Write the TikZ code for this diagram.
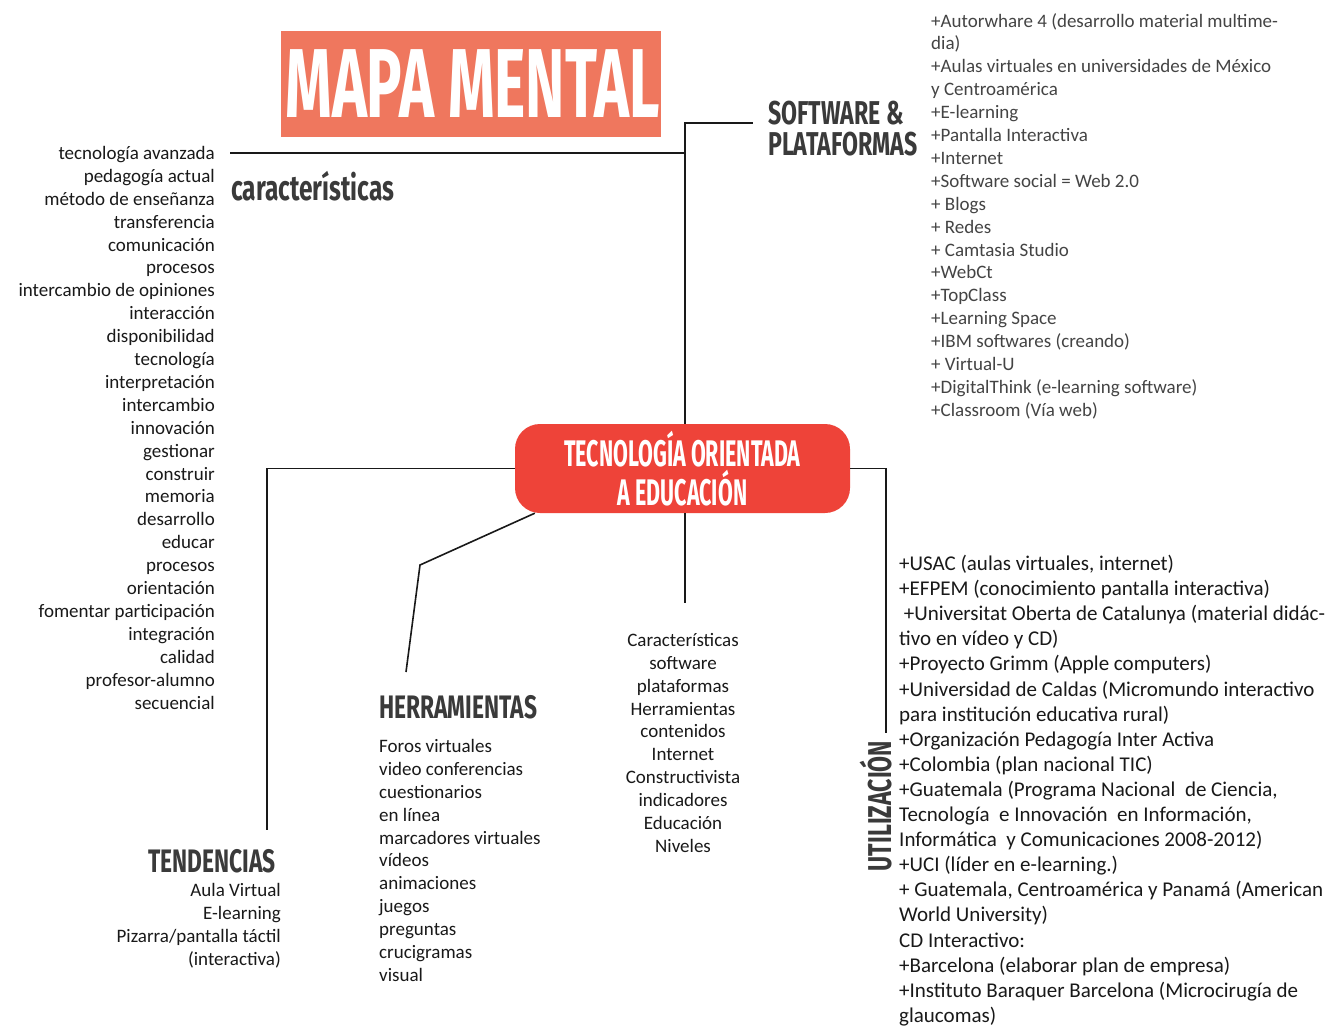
\documentclass[tikz,border=0pt]{standalone}
\usepackage{fontspec}
\setmainfont{Carlito}
\newfontfamily\titlefont[FakeStretch=0.605]{Fira Sans}
\newfontfamily\centerfont[FakeStretch=0.58]{Fira Sans}
\newfontfamily\headfont[FakeStretch=0.70]{Fira Sans}
\definecolor{titleorange}{HTML}{EF775E}
\definecolor{centerred}{HTML}{EE4339}
\definecolor{headgray}{HTML}{3A3A3A}
\definecolor{listgray}{HTML}{444444}
\begin{document}
\begin{tikzpicture}[x=1pt,y=-1pt,
  conn/.style={line width=1.6pt,draw=black!90},
  headtext/.style={text=headgray,inner sep=0pt,font=\headfont\bfseries\fontsize{#1}{#1}\selectfont},
  listtext/.style={inner sep=0pt,text=black!90,font=\fontsize{19}{22.9}\selectfont},
]
\fill[white] (0,0) rectangle (1330,1028);
\useasboundingbox (0,0) rectangle (1330,1028);

% title
\node[fill=titleorange,minimum width=380pt,minimum height=106pt,inner sep=0pt] (title) at (471,84) {};
\node[inner sep=0pt,text=white,font=\titlefont\bfseries\fontsize{98}{98}\selectfont] (titletext) at (472.5,84) {MAPA MENTAL};

% center
\node[fill=centerred,rounded corners=25pt,minimum width=335pt,minimum height=89pt,inner sep=0pt,
      text=white,align=center,font=\centerfont\bfseries\fontsize{37}{39}\selectfont] (center) at (682.5,468.5)
      {TECNOLOGÍA ORIENTADA\\A EDUCACIÓN};

% headings
\node[headtext=33,align=left,anchor=north west] (sw) at (768,101) {SOFTWARE \&\\[-2pt]PLATAFORMAS};
\node[headtext=35,anchor=west] (car) at (231,186) {características};
\node[headtext=32.5,anchor=north west] (her) at (379,695) {HERRAMIENTAS};
\node[headtext=32.5,anchor=north east] (ten) at (276,849) {TENDENCIAS};
\node[headtext=33,rotate=90] (uti) at (876,806) {UTILIZACIÓN};

% lists
\node[listtext,align=right,anchor=north east] (carlist) at (215,146) {tecnología avanzada\\pedagogía actual\\método de enseñanza\\transferencia\\comunicación\\procesos\\intercambio de opiniones\\interacción\\disponibilidad\\tecnología\\interpretación\\intercambio\\innovación\\gestionar\\construir\\memoria\\desarrollo\\educar\\procesos\\orientación\\fomentar participación\\integración\\calidad\\profesor-alumno\\secuencial};

\node[listtext,text=listgray,align=left,anchor=north west] (swlist) at (931,13) {+Autorwhare 4 (desarrollo material multime-\\dia)\\+Aulas virtuales en universidades de México\\y Centroamérica\\+E-learning\\+Pantalla Interactiva\\+Internet\\+Software social = Web 2.0\\+ Blogs\\+ Redes\\+ Camtasia Studio\\+WebCt\\+TopClass\\+Learning Space\\+IBM softwares (creando)\\+ Virtual-U\\+DigitalThink (e-learning software)\\+Classroom (Vía web)};

\node[listtext,align=left,anchor=north west] (herlist) at (379,739) {Foros virtuales\\video conferencias\\cuestionarios\\en línea\\marcadores virtuales\\vídeos\\animaciones\\juegos\\preguntas\\crucigramas\\visual};

\node[listtext,align=right,anchor=north east] (tenlist) at (281,883) {Aula Virtual\\E-learning\\Pizarra/pantalla táctil\\(interactiva)};

\node[listtext,align=center,anchor=north] (midlist) at (683,633) {Características\\software\\plataformas\\Herramientas\\contenidos\\Internet\\Constructivista\\indicadores\\Educación\\Niveles};

\node[listtext,align=left,anchor=north west,font=\fontsize{21}{25.1}\selectfont] (utilist) at (899,555) {+USAC (aulas virtuales, internet)\\+EFPEM (conocimiento pantalla interactiva)\\\ +Universitat Oberta de Catalunya (material didác-\\tivo en vídeo y CD)\\+Proyecto Grimm (Apple computers)\\+Universidad de Caldas (Micromundo interactivo\\para institución educativa rural)\\+Organización Pedagogía Inter Activa\\+Colombia (plan nacional TIC)\\+Guatemala (Programa Nacional\ \ de Ciencia,\\Tecnología\ \ e Innovación\ \ en Información,\\Informática\ \ y Comunicaciones 2008-2012)\\+UCI (líder en e-learning.)\\+ Guatemala, Centroamérica y Panamá (American\\World University)\\CD Interactivo:\\+Barcelona (elaborar plan de empresa)\\+Instituto Baraquer Barcelona (Microcirugía de\\glaucomas)};

% connector end points
\coordinate (swend) at (753,123);
\coordinate (carjoin) at (685,153);
\coordinate (carend) at (230,153);
\coordinate (tenend) at (267,830);
\coordinate (utiend) at (886,733);
\coordinate (midend) at (685,603);
\coordinate (herbend) at (420,565);
\coordinate (herend) at (406,672);

\draw[conn] ([xshift=2.5pt]center.north) |- (swend);
\draw[conn] (carjoin) -- (carend);
\draw[conn] (center.west) -| (tenend);
\draw[conn] (center.east) -| (utiend);
\draw[conn] ([xshift=2.5pt]center.south) -- (midend);
\draw[conn] ([xshift=20pt]center.south west) -- (herbend) -- (herend);
\end{tikzpicture}
\end{document}
